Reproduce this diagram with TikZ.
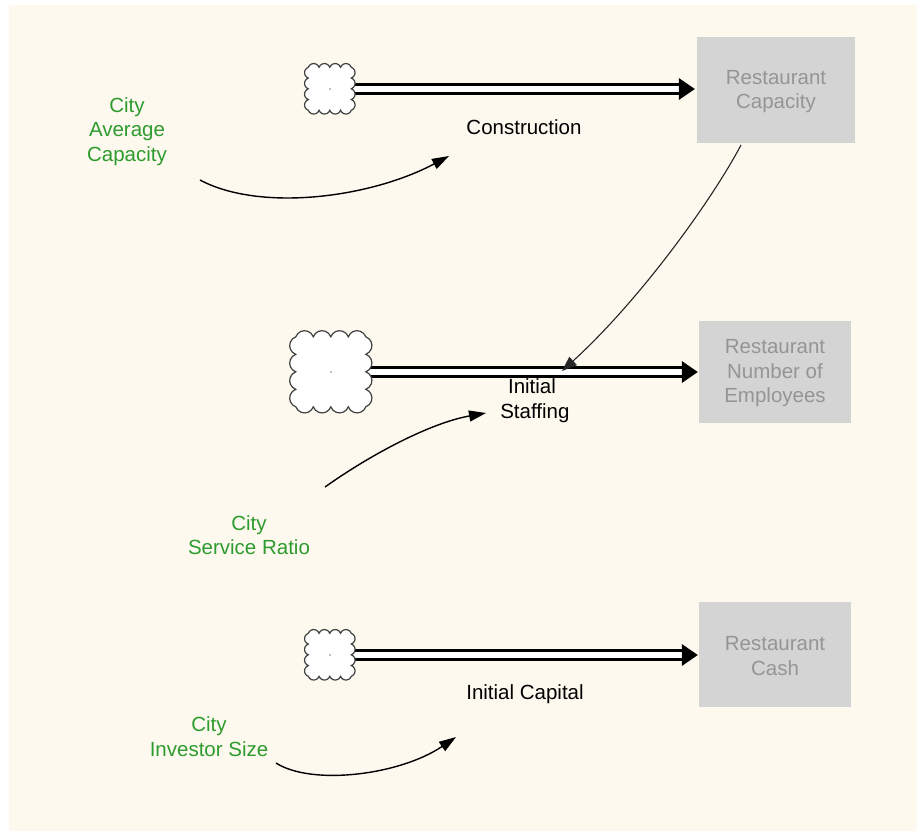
\documentclass[tikz,border=0pt]{standalone}
\usepackage{fontspec}
\setmainfont{Liberation Sans}
\usetikzlibrary{arrows.meta,calc}

\definecolor{paper}{HTML}{FDF9EE}
\definecolor{stockfill}{HTML}{D4D4D4}
\definecolor{stocktext}{HTML}{959595}
\definecolor{auxgreen}{HTML}{2E9B2E}

% scalloped source cloud drawn round a named square node
% #1 node name, #2 half side (pt), #3 bumps per side
\newcommand{\sourcecloud}[3]{%
  \pgfmathsetmacro{\bw}{2*#2/#3}%
  \pgfmathsetmacro{\br}{\bw/1.8794}%
  \draw[cloudline] (#1.north west)
    \foreach \k in {1,...,#3}{ arc[start angle=200,end angle=340,radius=\br] }
    \foreach \k in {1,...,#3}{ arc[start angle=-70,end angle=70,radius=\br] }
    \foreach \k in {1,...,#3}{ arc[start angle=20,end angle=160,radius=\br] }
    \foreach \k in {1,...,#3}{ arc[start angle=110,end angle=250,radius=\br] }
    -- cycle;
  \fill[gray] (#1.center) circle[radius=0.8];
}

\begin{document}
\begin{tikzpicture}[x=1pt,y=-1pt,
  every node/.style={font=\fontsize{20.5}{24.5}\selectfont, align=center, inner sep=0pt},
  stockbox/.style={fill=stockfill, text=stocktext},
  flowlabel/.style={text=black},
  auxlabel/.style={text=auxgreen},
  cloudcore/.style={minimum size=#1, inner sep=0pt},
  cloudline/.style={draw=black!75, line width=1.2pt, fill=white},
  pipe/.style={draw=black, line width=2.6pt, double=white, double distance=6.2pt, shorten >=14pt},
  link/.style={draw=black, line width=1.4pt, -{Triangle[length=17pt,width=11pt]}},
  thinlink/.style={draw=black!85, line width=1.1pt, -{Triangle[length=15pt,width=11pt]}}
]
\useasboundingbox (0,0) rectangle (917,831);
\fill[white] (0,0) rectangle (917,831);
\fill[paper] (9,5) rectangle (917,831);

% stocks (box and text placed separately so the text sits on the box centre)
\node[stockbox, minimum width=158pt, minimum height=106pt] (s1) at (776,90) {};
\node[stockbox, minimum width=152pt, minimum height=102pt] (s2) at (775,372) {};
\node[stockbox, minimum width=152pt, minimum height=105pt] (s3) at (775,654.5) {};
\node[text=stocktext] (s1t) at ($(s1)+(0,1.5)$) {Restaurant\\Capacity};
\node[text=stocktext] (s2t) at ($(s2)+(0,1.5)$) {Restaurant\\Number of\\Employees};
\node[text=stocktext] (s3t) at ($(s3)+(0,1.5)$) {Restaurant\\Cash};

% source clouds (cores)
\node[cloudcore=43pt] (c1) at (330,89) {};
\node[cloudcore=70pt] (c2) at (331,372) {};
\node[cloudcore=43pt] (c3) at (330,655) {};

% pipe tips
\coordinate (t1) at ($(s1.west |- c1)+(-2,0)$);
\coordinate (t2) at ($(s2.west |- c2)+(-1,0)$);
\coordinate (t3) at ($(s3.west |- c3)+(-1,0)$);

% flow pipes
\draw[pipe] (c1.east) -- (t1);
\draw[pipe] (c2.east) -- (t2);
\draw[pipe] (c3.east) -- (t3);
\fill (t1) -- ++(-16,-11) -- ++(0,22) -- cycle;
\fill (t2) -- ++(-16,-11) -- ++(0,22) -- cycle;
\fill (t3) -- ++(-16,-11) -- ++(0,22) -- cycle;

\sourcecloud{c1}{21.5}{4}
\sourcecloud{c2}{35}{4}
\sourcecloud{c3}{21.5}{4}

% flow labels
\node[flowlabel] (f1) at (524,127.5) {Construction};
\node[flowlabel] (f2) at (532,400.5) {Initial\\\ Staffing};
\node[flowlabel] (f3) at (525,694.5) {Initial Capital};

% auxiliaries
\node[auxlabel] (g1) at (127,131.5) {City\\Average\\Capacity};
\node[auxlabel] (g2) at (249,535) {City\\Service Ratio};
\node[auxlabel] (g3) at (209,736.5) {City\\Investor Size};

% link ends
\coordinate (a1s) at (200,180);
\coordinate (a1e) at (449,156);
\coordinate (a2s) at (741,145);
\coordinate (a2e) at (562,371);
\coordinate (a3s) at (325,487);
\coordinate (a3e) at (486,413);
\coordinate (a4s) at (276,763);
\coordinate (a4e) at (456,737);

% links
\draw[link] (a1s) .. controls (260,212) and (370,198) .. (a1e);
\draw[thinlink] (a2s) .. controls (712,200) and (640,300) .. (a2e);
\draw[link] (a3s) .. controls (370,455) and (430,423) .. (a3e);
\draw[link] (a4s) .. controls (312,786) and (400,775) .. (a4e);
\end{tikzpicture}
\end{document}
